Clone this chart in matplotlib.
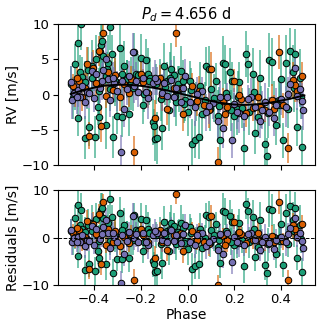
import numpy as np
import matplotlib
matplotlib.use("Agg")
import matplotlib.pyplot as plt

# model curve (phase, m/s)
model_phase = [-0.50, -0.45, -0.40, -0.35, -0.30, -0.25, -0.20, -0.15, -0.10, -0.05, 0.00,
               0.05, 0.10, 0.15, 0.20, 0.25, 0.30, 0.35, 0.40, 0.45, 0.50]
model_rv = [0.1, 0.6, 1.0, 1.3, 1.4, 1.4, 1.25, 1.0, 0.7, 0.3, -0.1,
            -0.5, -0.9, -1.2, -1.4, -1.45, -1.35, -1.15, -0.85, -0.5, -0.1]

# instrument 1 (green)
green_phase = [-0.50, -0.49, -0.48, -0.47, -0.47, -0.46, -0.455, -0.45, -0.44, -0.43,
               -0.425, -0.42, -0.41, -0.40, -0.395, -0.39, -0.385, -0.38, -0.375, -0.37,
               -0.365, -0.36, -0.35, -0.345, -0.34, -0.33, -0.325, -0.32, -0.31, -0.30,
               -0.29, -0.28, -0.27, -0.26, -0.25, -0.24, -0.23, -0.22, -0.20, -0.19,
               -0.18, -0.17, -0.16, -0.15, -0.145, -0.14, -0.13, -0.12, -0.11, -0.10,
               -0.09, -0.08, -0.07, -0.06, -0.05, -0.04, -0.03, -0.02, -0.01, 0.00,
               0.01, 0.02, 0.03, 0.05, 0.06, 0.08, 0.09, 0.10, 0.12, 0.13,
               0.14, 0.15, 0.16, 0.18, 0.19, 0.20, 0.21, 0.22, 0.24, 0.25,
               0.26, 0.28, 0.29, 0.30, 0.31, 0.33, 0.34, 0.35, 0.36, 0.38,
               0.39, 0.40, 0.41, 0.42, 0.44, 0.45, 0.46, 0.47, 0.48, 0.49,
               -0.48, -0.44, -0.41, -0.38, -0.35, -0.33, -0.31, -0.28, -0.26, -0.235,
               -0.21, -0.185, -0.165, -0.135, -0.115, -0.095, -0.075, -0.055, -0.035, -0.015,
               0.015, 0.035, 0.055, 0.075, 0.095, 0.115, 0.135, 0.165, 0.185, 0.215,
               0.235, 0.265, 0.285, 0.315, 0.345, 0.37, 0.395, 0.43, 0.455, 0.485]
green_rv = [1.5, -0.5, 4.4, 7.4, -3.3, 3.2, 10.0, 2.5, -6.1, 0.5,
            3.5, -4.6, 4.0, 2.9, -6.0, 5.0, -1.7, -3.1, 6.0, 7.0,
            7.6, 5.5, -4.3, 3.6, 4.5, 9.6, 5.7, -6.0, 2.0, -3.0,
            6.6, -3.1, 4.1, 2.5, -2.8, 1.6, 6.0, 3.0, 5.2, -1.5,
            4.9, 3.0, 2.4, -3.9, -4.5, -6.3, -6.2, 2.2, -4.7, 4.0,
            2.0, -2.2, 3.6, 2.8, -1.1, 1.5, 3.3, 2.0, -0.7, -2.5,
            2.0, -7.0, -6.4, -6.0, -2.7, 4.0, 3.6, 0.8, 2.0, -3.0,
            -6.5, 4.5, 4.3, 3.2, 2.0, -3.0, -2.0, 1.8, -7.5, 5.8,
            4.3, 3.0, -5.4, -3.2, 2.4, -7.0, -8.7, 4.9, 4.7, -4.3,
            -0.8, 2.2, -6.5, 4.5, 6.2, 3.2, 5.8, -4.6, 2.4, -7.4,
            0.2, 1.8, 2.3, 0.5, 2.6, 0.8, 1.9, 3.0, 2.2, 0.9,
            2.8, 0.1, 2.0, 1.5, -0.6, 1.1, 2.4, -0.2, 0.8, -1.3,
            0.6, -1.0, 1.2, -0.8, -2.1, -0.5, -1.6, 0.2, -2.2, -0.3,
            -1.9, -2.4, 0.4, -1.7, -2.6, -0.9, -1.5, -2.0, 0.9, -0.4]
green_res = [1.4, -0.7, 4.1, 7.0, -3.8, 2.7, 5.9, 1.9, -6.8, -0.3,
             2.7, -5.5, 3.1, 1.9, -7.1, 3.9, -2.9, -4.3, 4.8, 5.8,
             6.3, 4.2, -5.6, 2.3, 3.1, 8.2, 4.3, -7.4, 0.6, -4.4,
             5.2, -4.5, 2.7, 1.1, -4.2, 0.2, 4.7, 1.7, 4.0, -2.7,
             3.8, 1.9, 1.3, -4.9, -5.5, -7.2, -7.1, 1.4, -5.4, 3.3,
             1.4, -2.7, 3.2, 2.5, -1.4, 1.3, 3.2, 2.0, -0.6, -2.4,
             2.2, -6.7, -6.0, -5.5, -2.1, 4.7, 4.4, 1.7, 3.0, -1.9,
             -5.3, 5.7, 5.5, 4.5, 3.4, -1.6, -0.6, 3.2, -6.0, 7.2,
             5.7, 4.4, -4.0, -1.9, 3.7, -5.8, -7.5, 6.0, 5.8, -3.4,
             0.0, 3.0, -5.7, 5.3, 6.7, 3.7, 6.2, -4.2, 2.7, -7.2,
             0.0, 1.3, 1.4, -0.7, 1.3, -0.6, 0.5, 1.6, 0.8, -0.5,
             1.5, -1.0, 1.0, 0.6, -1.4, 0.5, 1.9, -0.5, 0.7, -1.2,
             0.9, -0.6, 1.8, 0.0, -1.1, 0.6, -0.4, 1.5, -0.8, 1.1,
             -0.5, -1.0, 1.8, -0.4, -1.4, 0.1, -0.7, -1.3, 1.4, -0.2]
green_err = [2.6, 3.0, 2.8, 3.4, 2.6, 2.4, 3.6, 2.9, 3.1, 2.5,
             3.3, 2.7, 3.8, 2.4, 3.0, 3.5, 2.6, 3.2, 2.9, 3.7,
             3.1, 2.8, 3.4, 2.5, 3.9, 3.2, 2.7, 3.0, 3.6, 2.6,
             3.3, 2.9, 3.5, 2.4, 3.1, 3.8, 2.7, 3.2, 3.4, 2.6,
             3.0, 3.6, 2.8, 3.3, 2.5, 3.1, 3.7, 2.9, 3.2, 3.4,
             2.6, 3.0, 3.8, 2.7, 3.3, 2.5, 3.6, 2.9, 3.1, 3.4,
             2.8, 3.5, 2.6, 3.2, 3.9, 2.7, 3.3, 3.0, 2.5, 3.6,
             3.1, 3.8, 2.8, 3.4, 2.6, 3.2, 3.7, 2.9, 3.5, 3.3,
             2.7, 3.6, 3.0, 2.8, 3.9, 3.2, 2.6, 3.8, 3.4, 2.9,
             3.1, 3.7, 2.5, 4.0, 3.3, 3.8, 3.5, 2.7, 4.1, 3.0,
             2.4, 3.0, 2.8, 3.3, 2.6, 3.1, 2.9, 3.5, 2.7, 3.2,
             3.0, 2.6, 3.4, 2.8, 3.1, 2.5, 3.6, 2.9, 3.3, 2.7,
             3.2, 2.8, 3.5, 2.6, 3.0, 3.4, 2.7, 3.1, 2.9, 3.6,
             2.8, 3.3, 2.6, 3.0, 3.5, 2.9, 3.2, 2.7, 3.4, 3.1]

# instrument 2 (purple)
purple_phase = [-0.50, -0.495, -0.485, -0.47, -0.46, -0.45, -0.44, -0.43, -0.41, -0.40,
                -0.39, -0.375, -0.36, -0.35, -0.34, -0.33, -0.315, -0.30, -0.285, -0.28,
                -0.27, -0.25, -0.235, -0.23, -0.21, -0.19, -0.17, -0.15, -0.13, -0.11,
                -0.09, -0.07, -0.05, -0.03, -0.01, 0.01, 0.03, 0.06, 0.08, 0.11,
                0.13, 0.15, 0.17, 0.19, 0.20, 0.22, 0.24, 0.27, 0.29, 0.31,
                0.33, 0.35, 0.37, 0.40, 0.42, 0.44, 0.46, 0.47, 0.48, 0.495,
                -0.475, -0.42, -0.365, -0.32, -0.26, -0.22, -0.18, -0.14, -0.10, -0.06,
                -0.02, 0.04, 0.09, 0.14, 0.21, 0.26, 0.32, 0.38, 0.43, 0.49]
purple_rv = [1.8, -0.8, 0.3, 0.6, -0.3, 1.2, -1.0, 0.4, 3.4, -0.5,
             2.9, 1.0, 3.5, 5.0, 2.2, -0.7, 1.6, 0.5, -8.1, 2.0,
             -2.0, 2.6, 6.0, 1.2, 0.4, 2.3, -0.5, 1.6, 1.9, 0.3,
             -0.2, 2.1, 0.9, -1.0, 2.6, -1.0, -1.8, 0.5, -2.5, -1.2,
             -3.7, -4.7, -0.4, -6.5, -1.3, -2.6, -3.0, -0.3, -1.8, -3.8,
             -1.0, -2.4, -3.3, -0.6, -1.7, 1.5, 3.8, -0.2, 0.8, -2.2,
             -0.4, 0.2, 1.9, 2.3, 0.8, 2.0, 0.4, 2.4, 1.6, -0.3,
             0.9, 0.1, -1.6, -0.3, -2.4, -0.6, -2.2, -1.4, 0.1, -0.9]
purple_res = [1.7, -1.0, 0.0, 0.2, -0.8, 0.6, -1.7, -0.4, 2.5, -1.5,
              1.8, -0.2, 2.2, 3.7, 0.9, -2.1, 0.2, -0.9, -9.5, 0.6,
              -3.4, 1.2, 4.6, -0.1, -0.9, 1.1, -1.6, 0.6, 1.0, -0.5,
              -0.8, 1.6, 0.6, -1.1, 2.6, -0.8, -1.5, 1.1, -1.8, -0.2,
              -2.6, -3.5, 0.9, -5.1, 0.1, -1.2, -1.6, 1.1, -0.4, -2.5,
              0.2, -1.2, -2.3, 0.2, -1.0, 2.1, 4.2, 0.1, 1.1, -2.1,
              -0.8, -0.7, 0.7, 0.9, -0.6, 0.7, -0.8, 1.5, 0.9, -0.7,
              0.8, 0.5, -0.8, 0.8, -1.0, 0.8, -0.9, -0.4, 0.7, -0.7]
purple_err = [2.2, 2.6, 2.0, 2.4, 2.8, 2.1, 2.5, 2.3, 2.7, 2.0,
              2.4, 2.2, 2.9, 2.6, 2.1, 2.5, 2.3, 2.8, 2.4, 2.0,
              2.6, 2.2, 2.7, 2.4, 2.1, 2.5, 2.9, 2.3, 2.0, 2.6,
              2.2, 2.8, 2.4, 2.1, 2.5, 2.3, 2.7, 2.0, 2.6, 2.2,
              2.4, 2.9, 2.1, 2.5, 2.3, 2.8, 2.2, 2.6, 2.0, 2.4,
              2.7, 2.1, 2.5, 2.3, 2.9, 2.2, 2.6, 2.0, 2.4, 2.8,
              2.3, 2.1, 2.6, 2.4, 2.2, 2.7, 2.0, 2.5, 2.3, 2.8,
              2.1, 2.4, 2.6, 2.2, 2.5, 2.0, 2.7, 2.3, 2.4, 2.6]

# instrument 3 (orange)
orange_phase = [-0.49, -0.48, -0.465, -0.45, -0.43, -0.42, -0.405, -0.39, -0.38, -0.37,
                -0.36, -0.34, -0.32, -0.29, -0.27, -0.24, -0.23, -0.20, -0.17, -0.14,
                -0.12, -0.09, -0.06, -0.05, -0.02, 0.02, 0.05, 0.07, 0.10, 0.13,
                0.15, 0.17, 0.20, 0.23, 0.25, 0.28, 0.30, 0.33, 0.36, 0.39,
                0.41, 0.43, 0.45, 0.47, 0.49,
                -0.475, -0.44, -0.35, -0.31, -0.25, -0.19, -0.11, -0.03, 0.04, 0.09,
                0.16, 0.22, 0.31, 0.37, 0.46]
orange_rv = [1.2, 0.4, 2.0, -0.3, 4.3, -5.8, 3.8, 1.7, 6.2, -4.4,
             8.7, 3.2, 0.6, -0.3, 1.5, 2.2, -8.2, 3.0, 0.2, -3.3,
             2.4, -2.0, 0.9, 8.7, -2.7, 1.2, 0.5, -1.5, 3.6, -9.5,
             -0.9, -1.8, 2.0, -0.6, -2.6, -1.9, -0.4, -2.2, -0.7, 6.1,
             -1.5, -7.6, 2.1, 0.5, 2.6,
             2.4, 0.9, -0.2, 2.8, 0.3, 1.8, 0.0, 1.0, -0.9, -2.2,
             -2.8, -0.1, -1.7, -2.0, 1.4]
orange_res = [1.0, 0.1, 1.6, -0.9, 3.5, -6.7, 2.8, 0.7, 5.1, -5.6,
              7.5, 1.9, -0.8, -1.7, 0.1, 0.8, -9.0, 1.8, -0.9, -4.3,
              1.6, -2.6, 0.5, 9.2, -2.8, 1.5, 1.0, -0.8, 4.5, -9.9,
              0.3, -0.5, 3.4, 0.8, -1.2, -0.5, 0.9, -1.0, 0.4, 7.5,
              -0.7, -9.0, 2.6, 0.8, 2.8,
              2.0, 0.2, -1.5, 1.4, -1.1, 0.6, -0.8, 0.9, -0.5, -1.4,
              -1.6, 1.3, -0.4, -1.0, 1.8]
orange_err = [1.8, 2.2, 1.6, 2.0, 2.4, 1.9, 2.6, 1.7, 2.1, 2.3,
              1.8, 2.5, 1.6, 2.0, 2.2, 1.9, 2.4, 1.7, 2.1, 2.6,
              1.8, 2.3, 1.6, 2.0, 2.5, 1.9, 2.2, 1.7, 2.4, 2.1,
              1.8, 2.6, 1.6, 2.3, 2.0, 1.9, 2.5, 1.7, 2.2, 2.4,
              1.8, 2.1, 2.6, 1.6, 2.0,
              1.9, 2.2, 1.7, 2.4, 2.0, 1.8, 2.3, 1.6, 2.1, 2.5,
              1.9, 2.2, 1.7, 2.0, 2.4]

title = r"$P_d = 4.656$ d"
colors = {"purple": "#7570b3", "orange": "#d95f02", "green": "#1b9e77"}

# green drawn first, then orange, purple on top
datasets = [
    ("green", green_phase, green_rv, green_res, green_err),
    ("orange", orange_phase, orange_rv, orange_res, orange_err),
    ("purple", purple_phase, purple_rv, purple_res, purple_err),
]

plt.rcParams["font.family"] = "DejaVu Sans"
fig = plt.figure(figsize=(3.27, 3.27), dpi=100)
ax1 = fig.add_axes([0.177, 0.495, 0.786, 0.431])
ax2 = fig.add_axes([0.177, 0.128, 0.786, 0.29])

for name, ph, rv, res, err in datasets:
    c = colors[name]
    ax1.errorbar(ph, rv, yerr=err, fmt="none", ecolor=matplotlib.colors.to_rgba(c, 0.7),
                 elinewidth=1.2, capsize=0, zorder=1)
    ax2.errorbar(ph, res, yerr=err, fmt="none", ecolor=matplotlib.colors.to_rgba(c, 0.7),
                 elinewidth=1.2, capsize=0, zorder=1)

for name, ph, rv, res, err in datasets:
    c = colors[name]
    ax1.plot(ph, rv, "o", ms=4.7, mfc=c, mec="k", mew=0.7, zorder=2)
    ax2.plot(ph, res, "o", ms=4.7, mfc=c, mec="k", mew=0.7, zorder=2)

ax1.plot(model_phase, model_rv, color="k", lw=1.4, zorder=3)
ax2.axhline(0, color="k", ls="--", lw=0.7, zorder=3)

for ax in (ax1, ax2):
    ax.set_xlim(-0.555, 0.545)
    ax.set_ylim(-10, 10)
    ax.set_xticks([-0.4, -0.2, 0.0, 0.2, 0.4])
    ax.tick_params(labelsize=9.5, length=3.5, width=0.8, pad=2.5)
    for s in ax.spines.values():
        s.set_linewidth(0.8)

ax1.set_yticks([-10, -5, 0, 5, 10])
ax1.set_xticklabels([])
ax2.set_yticks([-10, 0, 10])
ax1.set_title(title, fontsize=10.5, pad=3)
ax1.set_ylabel("RV [m/s]", fontsize=10, labelpad=1)
ax2.set_ylabel("Residuals [m/s]", fontsize=10, labelpad=1)
ax2.set_xlabel("Phase", fontsize=10, labelpad=1)

fig.savefig("out.png", dpi=100)
